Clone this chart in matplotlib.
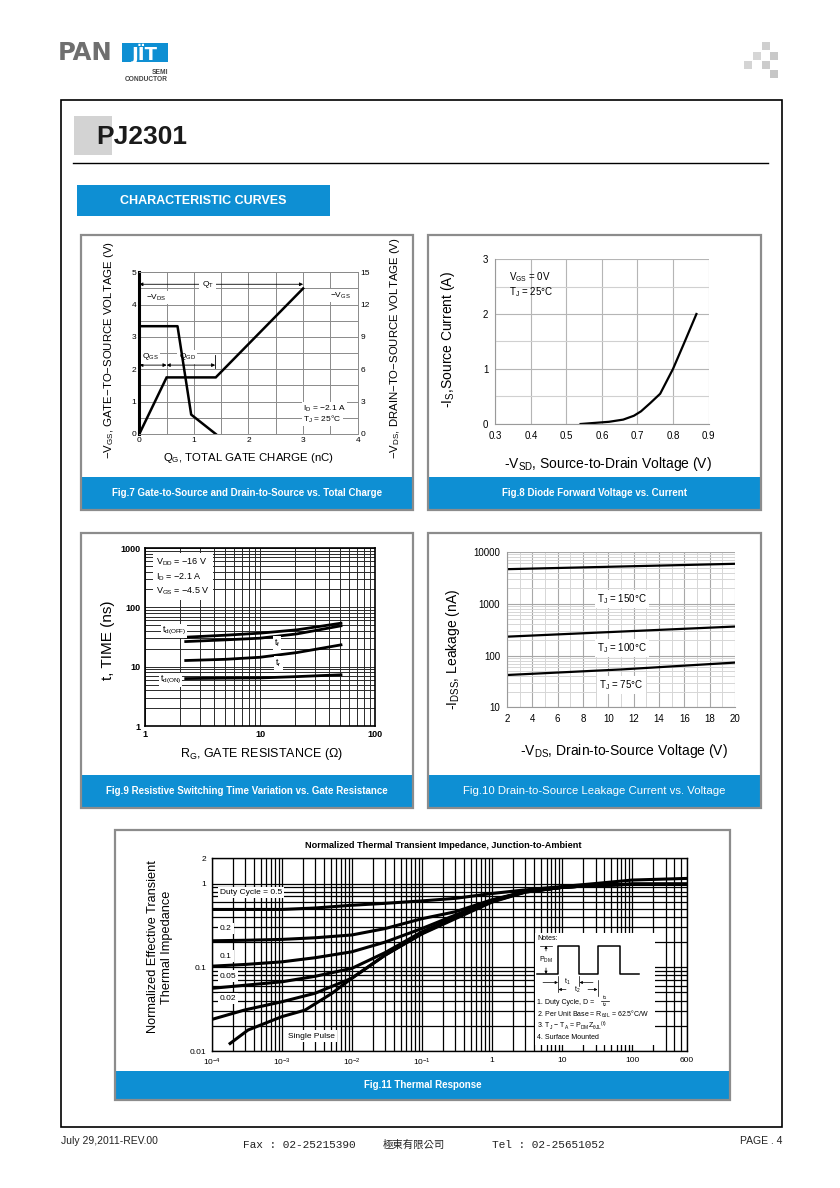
import numpy as np
import matplotlib
matplotlib.use('Agg')
import matplotlib.pyplot as plt
from matplotlib.patches import Rectangle
from matplotlib.ticker import LogLocator, NullFormatter, FixedLocator

plt.rcParams['font.family'] = ['Liberation Sans', 'DejaVu Sans']
plt.rcParams['mathtext.fontset'] = 'custom'
plt.rcParams['mathtext.rm'] = 'Liberation Sans'
plt.rcParams['mathtext.it'] = 'Liberation Sans:italic'
plt.rcParams['mathtext.bf'] = 'Liberation Sans:bold'

# ---------------- data ----------------
# Fig.7 gate charge
qg_vgs = [0.0, 0.5, 1.4, 3.0]
vgs = [0.0, 1.75, 1.75, 4.5]
qg_vds = [0.0, 0.7, 0.95, 1.4]
vds = [10.0, 10.0, 1.8, 0.0]
f7_xticks = [0, 1, 2, 3, 4]
f7_yticks = [0, 1, 2, 3, 4, 5]
f7_y2ticks = [0, 3, 6, 9, 12, 15]

# Fig.8 diode forward
vsd = [0.54, 0.58, 0.62, 0.66, 0.69, 0.71, 0.736, 0.764, 0.80, 0.83, 0.866]
isd = [0.0, 0.02, 0.04, 0.08, 0.15, 0.23, 0.38, 0.55, 1.0, 1.45, 2.0]
f8_xticks = [0.3, 0.4, 0.5, 0.6, 0.7, 0.8, 0.9]
f8_xlabels = ['0.3', '0.4', '0.5', '0.6', '0.7', '0.8', '0.9']
f8_yticks = [0, 1, 2, 3]

# Fig.9 switching time
rg = [2.26, 5, 10, 21, 50.6]
td_off = [31.4, 33.9, 36.7, 41.8, 54.0]
t_f = [26.5, 28.3, 30.2, 35.7, 48.8]
t_r = [12.7, 13.3, 14.4, 17.3, 23.3]
td_on = [6.3, 6.4, 6.46, 6.8, 7.3]
f9_xticks = [1, 10, 100]
f9_yticks = [1, 10, 100, 1000]

# Fig.10 leakage
vds10 = [2, 11, 20]
idss150 = [4660, 5250, 5920]
idss100 = [232, 291, 364]
idss75 = [42.2, 54, 73.3]
f10_xticks = [2, 4, 6, 8, 10, 12, 14, 16, 18, 20]
f10_yticks = [10, 100, 1000, 10000]

# Fig.11 thermal response
t11 = [1e-4, 3e-4, 1e-3, 3e-3, 1e-2, 3e-2, 0.1, 0.3, 1, 3, 10, 30, 100, 600]
z_d05 = [0.49, 0.49, 0.49, 0.51, 0.55, 0.58, 0.62, 0.665, 0.76, 0.84, 0.92, 1.0, 1.1, 1.15]
z_d02 = [0.207, 0.21, 0.215, 0.225, 0.243, 0.29, 0.38, 0.46, 0.64, 0.80, 0.90, 0.95, 0.98, 0.98]
z_d01 = [0.103, 0.108, 0.116, 0.13, 0.153, 0.20, 0.29, 0.42, 0.63, 0.80, 0.90, 0.95, 0.98, 0.98]
z_d005 = [0.056, 0.061, 0.067, 0.078, 0.097, 0.15, 0.265, 0.40, 0.62, 0.80, 0.90, 0.95, 0.98, 0.98]
z_d002 = [0.0238, 0.031, 0.0387, 0.049, 0.074, 0.14, 0.254, 0.39, 0.61, 0.79, 0.90, 0.95, 0.98, 0.98]
t_single = [1.83e-4, 3.3e-4, 1e-3, 2.15e-3, 5.2e-3, 1e-2, 3e-2, 0.1, 0.3, 1, 3, 10, 30, 100, 600]
z_single = [0.0123, 0.0178, 0.0257, 0.0308, 0.0488, 0.074, 0.14, 0.25, 0.38, 0.60, 0.79, 0.90, 0.95, 0.98, 0.98]
f11_xticks = [1e-4, 1e-3, 1e-2, 1e-1, 1, 10, 100, 600]
f11_xlabels = [r'$10^{-4}$', r'$10^{-3}$', r'$10^{-2}$', r'$10^{-1}$', '1', '10', '100', '600']
f11_yticks = [0.01, 0.1, 1, 2]
f11_ylabels = ['0.01', '0.1', '1', '2']

# ---------------- layout ----------------
W, H = 840, 1188
BLUE = '#0e8fd3'
PANEL = '#8c8c8c'

fig = plt.figure(figsize=(W / 100, H / 100), dpi=100)


def axrect(x0, y0, x1, y1):
    return [x0 / W, 1 - y1 / H, (x1 - x0) / W, (y1 - y0) / H]


def sub(s):
    return r'$_\mathregular{' + s + '}$'


pax = fig.add_axes([0, 0, 1, 1], zorder=0)
pax.set_xlim(0, W)
pax.set_ylim(H, 0)
pax.axis('off')

# header logo
pax.text(58, 53, 'PAN', fontsize=17.5, fontweight='bold', color='#6f6f6f', va='center', ha='left',
         family=['DejaVu Sans'])
pax.add_patch(Rectangle((122, 43), 46, 19, facecolor=BLUE, edgecolor='none'))
pax.text(145, 53.5, 'J\u00cfT', fontsize=13, fontweight='bold', color='white', va='center', ha='center',
         family=['DejaVu Sans'])
pax.text(168, 72, 'SEMI', fontsize=4.8, fontweight='bold', color='#444444', ha='right', va='center')
pax.text(168, 79.5, 'CONDUCTOR', fontsize=4.8, fontweight='bold', color='#444444', ha='right', va='center')
for (sx, sy, c) in [(762, 42, '#cfcfcf'), (753, 52, '#d6d6d6'), (770, 52, '#c9c9c9'),
                    (744, 61, '#d4d4d4'), (762, 61, '#cccccc'), (770, 70, '#c6c6c6')]:
    pax.add_patch(Rectangle((sx, sy), 8, 8, facecolor=c, edgecolor='none'))

# main border
pax.add_patch(Rectangle((61, 100), 721, 1027, facecolor='none', edgecolor='black', lw=1.2))
pax.add_patch(Rectangle((74, 116), 38, 39, facecolor='#d3d3d3', edgecolor='none'))
pax.text(96, 137, 'PJ2301', fontsize=19, fontweight='bold', color='#1a1a1a', va='center', ha='left')
pax.plot([72.5, 768], [163, 163], color='black', lw=1.0)
pax.add_patch(Rectangle((77, 185), 253, 31, facecolor=BLUE, edgecolor='none'))
pax.text(203, 200.5, 'CHARACTERISTIC CURVES', fontsize=9, fontweight='bold', color='white',
         ha='center', va='center')

# panels
panels = [
    (81, 235, 413, 510, 477, 'Fig.7 Gate-to-Source and Drain-to-Source vs. Total Charge', 'bold', 7),
    (428, 235, 761, 510, 477, 'Fig.8 Diode Forward Voltage vs. Current', 'bold', 7),
    (81, 533, 413, 808, 775, 'Fig.9 Resistive Switching Time Variation vs. Gate Resistance', 'bold', 7),
    (428, 533, 761, 808, 775, 'Fig.10 Drain-to-Source Leakage Current vs. Voltage', 'normal', 8.2),
    (115, 830, 730, 1100, 1071, 'Fig.11 Thermal Response', 'bold', 7),
]
for (x0, y0, x1, y1, by, cap, fw, fs) in panels:
    pax.add_patch(Rectangle((x0, by), x1 - x0, y1 - by, facecolor=BLUE, edgecolor='none'))
    pax.add_patch(Rectangle((x0, y0), x1 - x0, y1 - y0, facecolor='none', edgecolor=PANEL, lw=1.6))
    pax.text((x0 + x1) / 2, (by + y1) / 2, cap, color='white', fontsize=fs, fontweight=fw,
             ha='center', va='center')

# footer
pax.text(61, 1141, 'July 29,2011-REV.00', fontsize=7.5, ha='left', va='center', color='#222222')
pax.text(243, 1145, 'Fax : 02-25215390', fontsize=8, family=['Liberation Mono', 'DejaVu Sans Mono'],
         ha='left', va='center', color='#222222')
pax.text(383, 1145, '\u6975\u6771\u6709\u9650\u516c\u53f8', fontsize=7.5,
         family=['Noto Sans CJK TC', 'DejaVu Sans'], ha='left', va='center', color='#222222')
pax.text(492, 1145, 'Tel : 02-25651052', fontsize=8, family=['Liberation Mono', 'DejaVu Sans Mono'],
         ha='left', va='center', color='#222222')
pax.text(782, 1141, 'PAGE . 4', fontsize=7.5, ha='right', va='center', color='#222222')

# ---------------- Fig.7 ----------------
ax7 = fig.add_axes(axrect(139.3, 272.3, 357.7, 434), zorder=2)
ax7.set_xlim(0, 4)
ax7.set_ylim(0, 5)
ax7.set_xticks(f7_xticks)
ax7.set_yticks(f7_yticks)
ax7.set_xticks(np.arange(0.5, 4, 1), minor=True)
ax7.set_yticks(np.arange(0.5, 5, 1), minor=True)
ax7.grid(True, which='both', color='#8a8a8a', lw=0.7)
ax7.tick_params(which='both', length=0, labelsize=6, pad=2)
for s in ax7.spines.values():
    s.set_color('#8a8a8a')
    s.set_linewidth(0.7)
ax7.spines['left'].set_color('black')
ax7.spines['left'].set_linewidth(2.2)
ax7.plot(qg_vgs, vgs, color='black', lw=1.8, solid_joinstyle='miter', zorder=4)
ax7r = ax7.twinx()
ax7r.set_ylim(0, 15)
ax7r.set_yticks(f7_y2ticks)
ax7r.tick_params(length=0, labelsize=6, pad=2)
for s in ax7r.spines.values():
    s.set_visible(False)
ax7r.plot(qg_vds, vds, color='black', lw=1.8, zorder=4)
arw = dict(arrowstyle='<|-|>', lw=0.6, shrinkA=0, shrinkB=0, mutation_scale=5, color='black')
ax7.annotate('', xy=(0, 4.63), xytext=(3, 4.63), arrowprops=arw)
ax7.text(1.25, 4.63, 'Q' + sub('T'), fontsize=6, ha='center', va='center',
         bbox=dict(facecolor='white', edgecolor='none', pad=1.5))
ax7.annotate('', xy=(0, 2.13), xytext=(0.5, 2.13), arrowprops=arw)
ax7.annotate('', xy=(0.5, 2.13), xytext=(1.39, 2.13), arrowprops=arw)
ax7.plot([1.39, 1.39], [2.03, 2.44], color='black', lw=0.6)
ax7.text(0.05, 2.39, 'Q' + sub('GS'), fontsize=6, ha='left', va='center',
         bbox=dict(facecolor='white', edgecolor='none', pad=1))
ax7.text(0.72, 2.39, 'Q' + sub('GD'), fontsize=6, ha='left', va='center',
         bbox=dict(facecolor='white', edgecolor='none', pad=1))
ax7.text(0.13, 4.22, '\u2212V' + sub('DS'), fontsize=6, ha='left', va='center',
         bbox=dict(facecolor='white', edgecolor='none', pad=1))
ax7.text(3.5, 4.27, '\u2212V' + sub('GS'), fontsize=6, ha='left', va='center',
         bbox=dict(facecolor='white', edgecolor='none', pad=1))
ax7.text(3.0, 0.79, 'I' + sub('D') + ' = \u22122.1 A', fontsize=6, ha='left', va='center',
         bbox=dict(facecolor='white', edgecolor='none', pad=1))
ax7.text(3.0, 0.45, 'T' + sub('J') + ' = 25\u00b0C', fontsize=6, ha='left', va='center',
         bbox=dict(facecolor='white', edgecolor='none', pad=1))
pax.text(108.5, 350, '\u2212V' + sub('GS') + ', GATE\u2212TO\u2212SOURCE VOLTAGE (V)', rotation=90,
         fontsize=8.2, ha='center', va='center')
pax.text(395, 348, '\u2212V' + sub('DS') + ', DRAIN\u2212TO\u2212SOURCE VOLTAGE (V)', rotation=90,
         fontsize=8.2, ha='center', va='center')
pax.text(249, 458, 'Q' + sub('G') + ', TOTAL GATE CHARGE (nC)', fontsize=8.2, ha='center', va='center')

# ---------------- Fig.8 ----------------
ax8 = fig.add_axes(axrect(495.3, 259, 708.5, 424), zorder=2)
ax8.set_xlim(0.3, 0.9)
ax8.set_ylim(0, 3)
ax8.set_xticks(f8_xticks)
ax8.set_xticklabels(f8_xlabels)
ax8.set_yticks(f8_yticks)
ax8.set_yticks([0.5, 1.5, 2.5], minor=True)
ax8.grid(True, which='major', color='#b5b5b5', lw=0.8)
ax8.grid(True, which='minor', axis='y', color='#d0d0d0', lw=0.8)
ax8.tick_params(which='both', length=0, labelsize=7, pad=5)
for k in ['top', 'right']:
    ax8.spines[k].set_visible(False)
for k in ['left', 'bottom']:
    ax8.spines[k].set_color('#9a9a9a')
    ax8.spines[k].set_linewidth(0.8)
ax8.plot(vsd, isd, color='black', lw=1.6)
ax8.text(0.338, 2.68, 'V' + sub('GS') + ' = 0V', fontsize=7, ha='left', va='center')
ax8.text(0.338, 2.40, 'T' + sub('J') + ' = 25\u00b0C', fontsize=7, ha='left', va='center')
pax.text(448, 340, '-I' + sub('S') + ',Source Current (A)', rotation=90, fontsize=10,
         ha='center', va='center')
pax.text(608, 464, '-V' + sub('SD') + ', Source-to-Drain Voltage (V)', fontsize=10,
         ha='center', va='center')

# ---------------- Fig.9 ----------------
ax9 = fig.add_axes(axrect(145, 548, 375, 726), zorder=2)
ax9.set_xscale('log')
ax9.set_yscale('log')
ax9.set_xlim(1, 100)
ax9.set_ylim(1, 1000)
ax9.xaxis.set_major_locator(FixedLocator(f9_xticks))
ax9.yaxis.set_major_locator(FixedLocator(f9_yticks))
ax9.set_xticklabels([str(v) for v in f9_xticks])
ax9.set_yticklabels([str(v) for v in f9_yticks])
ax9.xaxis.set_minor_locator(LogLocator(base=10, subs=np.arange(2, 10)))
ax9.yaxis.set_minor_locator(LogLocator(base=10, subs=np.arange(2, 10)))
ax9.xaxis.set_minor_formatter(NullFormatter())
ax9.yaxis.set_minor_formatter(NullFormatter())
ax9.grid(True, which='both', color='#2a2a2a', lw=0.7)
ax9.tick_params(which='both', length=0, labelsize=6.5, pad=3)
for lab in ax9.get_xticklabels() + ax9.get_yticklabels():
    lab.set_fontweight('bold')
for s in ax9.spines.values():
    s.set_color('black')
    s.set_linewidth(1.2)
for yv in (td_off, t_f, t_r, td_on):
    ax9.plot(rg, yv, color='black', lw=2.0)
ax9.text(1.25, 330, 'V' + sub('DD') + ' = \u221216 V\nI' + sub('D') + ' = \u22122.1 A\nV' + sub('GS')
         + ' = \u22124.5 V', fontsize=6.5, ha='left', va='center', linespacing=1.3,
         bbox=dict(facecolor='white', edgecolor='none', pad=2))
ax9.text(1.4, 40, 't' + sub('d(OFF)'), fontsize=6.5, ha='left', va='center',
         bbox=dict(facecolor='white', edgecolor='none', pad=0.8))
ax9.text(14, 25, 't' + sub('f'), fontsize=6.5, ha='center', va='center',
         bbox=dict(facecolor='white', edgecolor='none', pad=0.8))
ax9.text(14.4, 11.5, 't' + sub('r'), fontsize=6.5, ha='center', va='center',
         bbox=dict(facecolor='white', edgecolor='none', pad=0.8))
ax9.text(1.35, 6.0, 't' + sub('d(ON)'), fontsize=6.5, ha='left', va='center',
         bbox=dict(facecolor='white', edgecolor='none', pad=0.8))
pax.text(108, 640, 't, TIME (ns)', rotation=90, fontsize=11, ha='center', va='center')
pax.text(262, 754, 'R' + sub('G') + ', GATE RESISTANCE (\u03a9)', fontsize=9, ha='center', va='center')

# ---------------- Fig.10 ----------------
ax10 = fig.add_axes(axrect(507, 552, 735, 707.4), zorder=2)
ax10.set_yscale('log')
ax10.set_xlim(2, 20)
ax10.set_ylim(10, 10000)
ax10.set_xticks(f10_xticks)
ax10.set_xticks(np.arange(3, 20, 2), minor=True)
ax10.yaxis.set_major_locator(FixedLocator(f10_yticks))
ax10.set_yticklabels([str(v) for v in f10_yticks])
ax10.yaxis.set_minor_locator(LogLocator(base=10, subs=np.arange(2, 10)))
ax10.yaxis.set_minor_formatter(NullFormatter())
ax10.grid(True, which='major', color='#a8a8a8', lw=0.8)
ax10.grid(True, which='minor', color='#d6d6d6', lw=0.7)
ax10.tick_params(which='both', length=0, labelsize=7, pad=5)
for k in ['top', 'right']:
    ax10.spines[k].set_visible(False)
for k in ['left', 'bottom']:
    ax10.spines[k].set_color('#9a9a9a')
    ax10.spines[k].set_linewidth(0.8)
for yv in (idss150, idss100, idss75):
    ax10.plot(vds10, yv, color='black', lw=1.6)
for lab, yy in [('150', 1253), ('100', 140), ('75', 27)]:
    ax10.text(11.05, yy, 'T' + sub('J') + ' = ' + lab + '\u00b0C', fontsize=7, ha='center', va='center',
              bbox=dict(facecolor='white', edgecolor='none', pad=1.5))
pax.text(453, 649, '-I' + sub('DSS') + ', Leakage (nA)', rotation=90, fontsize=10,
         ha='center', va='center')
pax.text(624, 751, '-V' + sub('DS') + ', Drain-to-Source Voltage (V)', fontsize=10,
         ha='center', va='center')

# ---------------- Fig.11 ----------------
ax11 = fig.add_axes(axrect(211.7, 858.3, 686.7, 1051), zorder=2)
ax11.set_xscale('log')
ax11.set_yscale('log')
ax11.set_xlim(1e-4, 600)
ax11.set_ylim(0.01, 2)
ax11.xaxis.set_major_locator(FixedLocator(f11_xticks))
ax11.set_xticklabels(f11_xlabels)
ax11.yaxis.set_major_locator(FixedLocator(f11_yticks))
ax11.set_yticklabels(f11_ylabels)
ax11.xaxis.set_minor_locator(LogLocator(base=10, subs=np.arange(2, 10), numticks=20))
ax11.yaxis.set_minor_locator(LogLocator(base=10, subs=np.arange(2, 10), numticks=20))
ax11.xaxis.set_minor_formatter(NullFormatter())
ax11.yaxis.set_minor_formatter(NullFormatter())
ax11.grid(True, which='both', color='black', lw=0.9)
ax11.tick_params(which='both', length=0, labelsize=6, pad=4)
for s in ax11.spines.values():
    s.set_color('black')
    s.set_linewidth(1.0)
for zv in (z_d05, z_d02, z_d01, z_d005, z_d002):
    ax11.plot(t11, zv, color='black', lw=2.2)
ax11.plot(t_single, z_single, color='black', lw=2.2)
wb = dict(facecolor='white', edgecolor='none', pad=1.5)
ax11.text(1.3e-4, 0.78, 'Duty Cycle = 0.5', fontsize=6, ha='left', va='center', bbox=wb)
ax11.text(1.3e-4, 0.29, '0.2', fontsize=6, ha='left', va='center', bbox=wb)
ax11.text(1.3e-4, 0.136, '0.1', fontsize=6, ha='left', va='center', bbox=wb)
ax11.text(1.3e-4, 0.0785, '0.05', fontsize=6, ha='left', va='center', bbox=wb)
ax11.text(1.3e-4, 0.0425, '0.02', fontsize=6, ha='left', va='center', bbox=wb)
ax11.text(2.68e-3, 0.0151, 'Single Pulse', fontsize=6, ha='center', va='center', bbox=wb)
pax.text(443, 845.5, 'Normalized Thermal Transient Impedance, Junction-to-Ambient', fontsize=6.6,
         fontweight='bold', ha='center', va='center')
pax.text(160, 947, 'Normalized Effective Transient\nThermal Impedance', rotation=90, fontsize=9.2,
         ha='center', va='center', linespacing=1.25)

# notes box
nax = fig.add_axes(axrect(535, 933, 655, 1045), zorder=5)
nax.set_xlim(535, 655)
nax.set_ylim(1045, 933)
nax.set_facecolor('white')
nax.set_xticks([])
nax.set_yticks([])
for s in nax.spines.values():
    s.set_visible(False)
nfs = 5
nax.text(537, 939, 'Notes:', fontsize=nfs, ha='left', va='center')
nax.plot([537, 558.3, 558.3, 579, 579, 597.7, 597.7, 620, 620, 639.3],
         [974, 974, 945.7, 945.7, 974, 974, 945.7, 945.7, 974, 974], color='black', lw=1.1)
sa = dict(arrowstyle='-|>', lw=0.5, mutation_scale=4, color='black', shrinkA=0, shrinkB=0)
nax.annotate('', xy=(546, 945.7), xytext=(546, 951), arrowprops=sa)
nax.annotate('', xy=(546, 974), xytext=(546, 968), arrowprops=sa)
nax.plot([540, 552], [945.7, 945.7], color='black', lw=0.5)
nax.text(546, 959.5, 'P' + sub('DM'), fontsize=nfs, ha='center', va='center')
nax.annotate('', xy=(558, 982.5), xytext=(543, 982.5), arrowprops=sa)
nax.annotate('', xy=(579.5, 982.5), xytext=(593, 982.5), arrowprops=sa)
nax.plot([558.3, 558.3], [976, 992], color='black', lw=0.5)
nax.plot([579, 579], [976, 986], color='black', lw=0.5)
nax.text(567.5, 982, 't' + sub('1'), fontsize=nfs, ha='center', va='center')
nax.annotate('', xy=(558.5, 989.5), xytext=(566, 989.5), arrowprops=sa)
nax.annotate('', xy=(597.5, 989.5), xytext=(588, 989.5), arrowprops=sa)
nax.plot([597.7, 597.7], [980, 996], color='black', lw=0.5)
nax.text(577, 990, 't' + sub('2'), fontsize=nfs, ha='center', va='center')
nax.text(537, 1002, '1. Duty Cycle, D = ', fontsize=nfs, ha='left', va='center')
nax.text(605, 997.5, 't' + sub('1'), fontsize=4.3, ha='center', va='center')
nax.plot([601, 609], [1001, 1001], color='black', lw=0.5)
nax.text(605, 1004.5, 't' + sub('2'), fontsize=4.3, ha='center', va='center')
nax.text(537, 1014, '2. Per Unit Base = R' + sub(r'\theta JL') + ' = 62.5\u00b0C/W', fontsize=nfs,
         ha='left', va='center')
nax.text(537, 1025.5, '3. T' + sub('J') + ' \u2212 T' + sub('A') + ' = P' + sub('DM') + 'Z'
         + sub(r'\theta JL') + '$^\\mathregular{(t)}$', fontsize=nfs, ha='left', va='center')
nax.text(537, 1037.7, '4. Surface Mounted', fontsize=nfs, ha='left', va='center')

fig.savefig('out.png', dpi=100, facecolor='white')
